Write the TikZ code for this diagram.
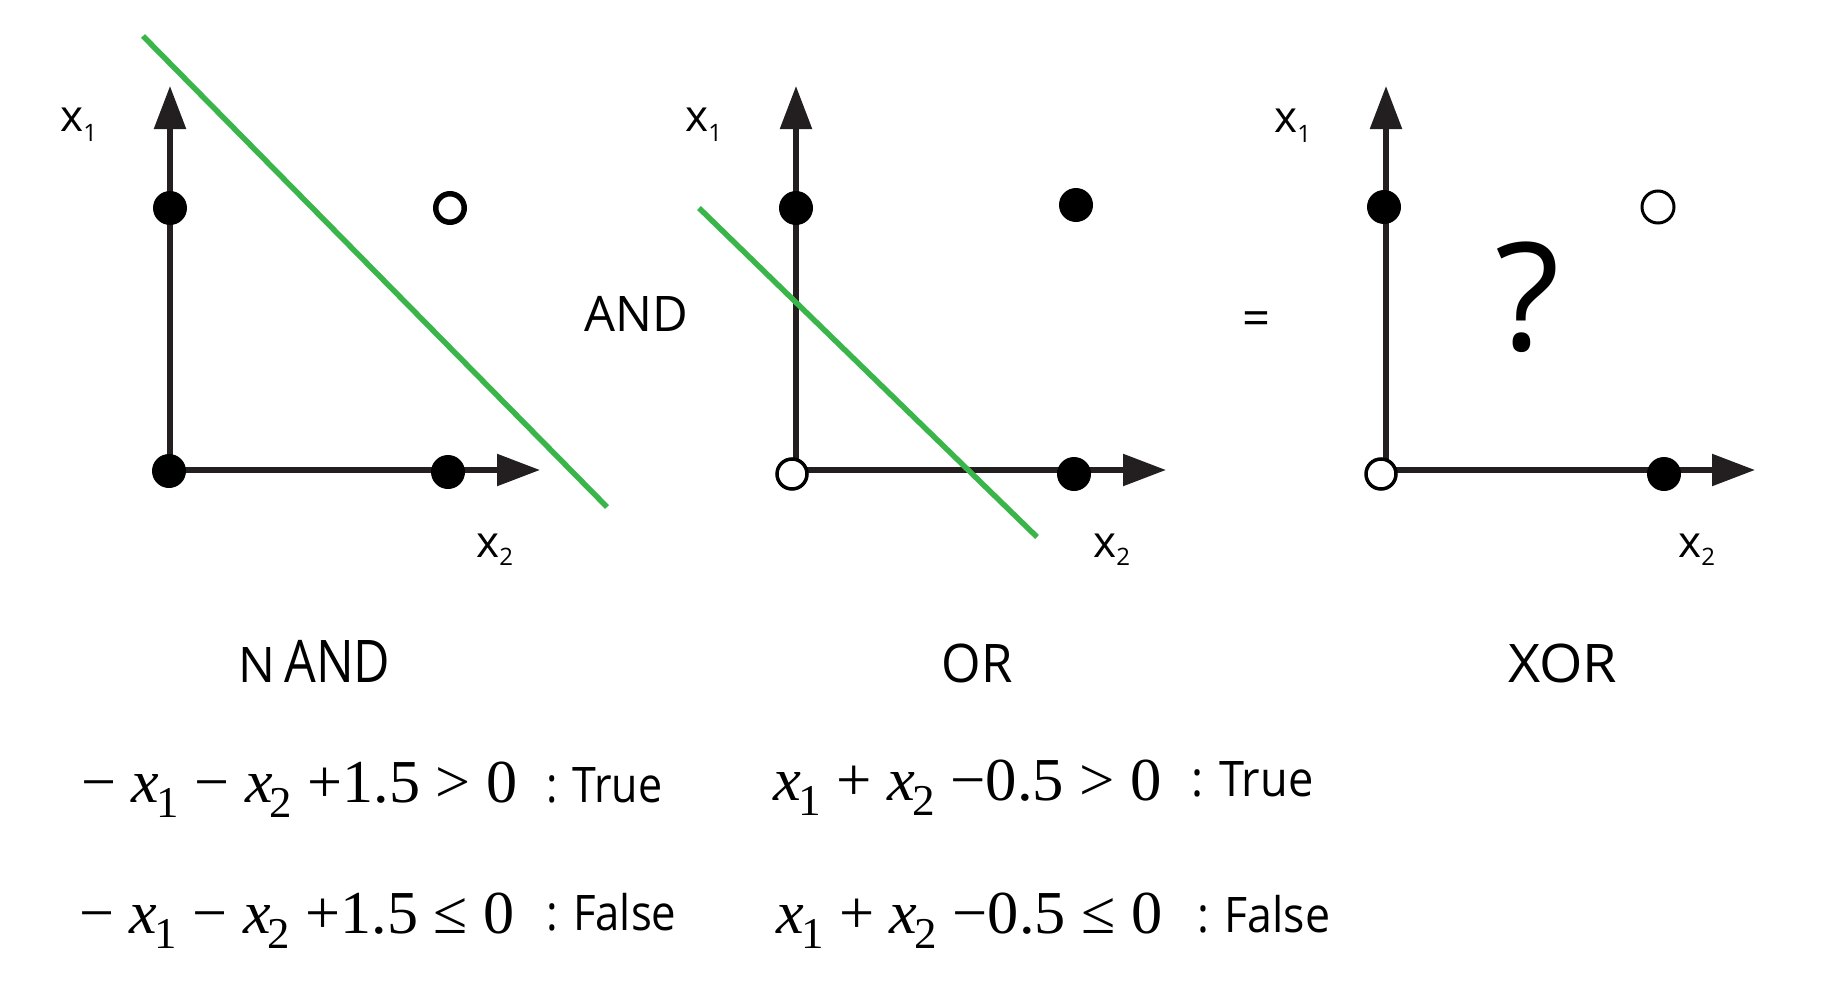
\documentclass[tikz,border=0pt]{standalone}
\usepackage{fontspec}
\usepackage{graphicx}
\setmainfont{Liberation Serif}
\newfontfamily\labfont{Open Sans}
\newfontfamily\eqfont{Liberation Serif}
\usetikzlibrary{arrows.meta}
\definecolor{sepgreen}{RGB}{58,181,74}
\definecolor{axisblack}{RGB}{35,31,32}
\newcommand\xsub[1]{\kern-1.5pt\raisebox{-7.5pt}{\fontsize{22pt}{22pt}\selectfont #1}}
\newcommand\ivar{\textit{x}}
\newcommand\fitw[2]{\resizebox{#1}{\height}{#2}}
\newcommand\axsub[2]{\raisebox{#1}{\fontsize{12pt}{12pt}\selectfont #2}}
\begin{document}
\begin{tikzpicture}[x=0.5pt,y=-0.5pt,
  axis/.style={line width=2.75pt,draw=axisblack,-{Triangle[length=21.5pt,width=15.5pt]}},
  sepline/.style={line width=2.75pt,draw=sepgreen},
  dot/.style={circle,fill=black,minimum size=17pt,inner sep=0pt},
  hollow/.style={circle,draw=black,fill=white,line width=1.75pt,minimum size=15pt,inner sep=0pt},
  ring/.style={circle,draw=black,line width=2.75pt,minimum size=14.25pt,inner sep=0pt},
  thinring/.style={circle,draw=black,fill=white,line width=1.5pt,minimum size=16pt,inner sep=0pt},
  axlab/.style={inner sep=0pt,anchor=base west,font=\labfont\fontsize{22pt}{22pt}\selectfont},
  eq/.style={inner sep=0pt,anchor=base west,font=\eqfont\fontsize{30.5pt}{30.5pt}\selectfont},
  tf/.style={inner sep=0pt,anchor=base west,font=\labfont\fontsize{24.5pt}{24.5pt}\selectfont},
  captxt/.style={inner sep=0pt,anchor=base west,font=\labfont\fontsize{26.6pt}{26.6pt}\selectfont},
  optxt/.style={inner sep=0pt,anchor=base,font=\labfont\fontsize{24.5pt}{24.5pt}\selectfont}
]
\useasboundingbox[fill=white] (0,0) rectangle (1822,985);

% ---------- panel 1 : NAND ----------
\coordinate (o1) at (170,470);
\coordinate (t1y) at (170,86);
\coordinate (t1x) at (540,470);
\draw[axis] (o1) -- (t1y);
\draw[axis] (o1) -- (t1x);
\coordinate (g1a) at (143,36);
\coordinate (g1b) at (607,507);
\draw[sepline] (g1a) -- (g1b);
\node[dot] (p1a) at (170,208) {};
\node[dot] (p1o) at (169,471) {};
\node[dot] (p1b) at (448,472) {};
\node[ring] (p1c) at (450,208) {};
\node[axlab] (l1y) at (60,131) {x\axsub{-5.5pt}{1}};
\node[axlab] (l1x) at (476,557) {x\axsub{-4pt}{2}};

% ---------- AND ----------
\node[optxt] (andop) at (636,331) {AND};

% ---------- panel 2 : OR ----------
\coordinate (o2) at (796,470);
\coordinate (t2y) at (796,86);
\coordinate (t2x) at (1166,470);
\draw[axis] (o2) -- (t2y);
\draw[axis] (o2) -- (t2x);
\coordinate (g2a) at (699,208);
\coordinate (g2b) at (1037,537);
\draw[sepline] (g2a) -- (g2b);
\node[dot] (p2a) at (796,208) {};
\node[dot] (p2c) at (1076,205) {};
\node[dot] (p2b) at (1074,474) {};
\node[hollow] (p2o) at (792,474) {};
\node[axlab] (l2y) at (685,131) {x\axsub{-5.5pt}{1}};
\node[axlab] (l2x) at (1093,557) {x\axsub{-4pt}{2}};

% ---------- = ----------
\node[optxt] (eqop) at (1256,335) {=};

% ---------- panel 3 : XOR ----------
\coordinate (o3) at (1386,470);
\coordinate (t3y) at (1386,86);
\coordinate (t3x) at (1755,470);
\draw[axis] (o3) -- (t3y);
\draw[axis] (o3) -- (t3x);
\node[dot] (p3a) at (1384,207) {};
\node[dot] (p3b) at (1664,474) {};
\node[hollow] (p3o) at (1381,474) {};
\node[thinring] (p3c) at (1658,207) {};
\node[inner sep=0pt,anchor=base,font=\labfont\fontsize{75pt}{75pt}\selectfont] (qm) at (1528,350) {?};
\node[axlab] (l3y) at (1274,132) {x\axsub{-5.5pt}{1}};
\node[axlab] (l3x) at (1678,557) {x\axsub{-4pt}{2}};

% ---------- captions ----------
\node[tf] (capN) at (238,682) {N};
\node[inner sep=0pt,anchor=base west,font=\labfont\fontsize{29.4pt}{29.4pt}\selectfont] (capAND) at (284,682) {\fitw{53pt}{AND}};
\node[captxt] (capOR) at (941,682) {\fitw{35.5pt}{OR}};
\node[captxt] (capXOR) at (1508,682) {\fitw{54.5pt}{XOR}};

% ---------- inequalities ----------
\node[eq] (e1) at (81,802) {\fitw{218pt}{− \ivar\xsub{1} − \ivar\xsub{2} +1.5 > 0}};
\node[tf] (e1t) at (546,802) {\fitw{58pt}{: True}};
\node[eq] (e2) at (79,933) {\fitw{217.5pt}{− \ivar\xsub{1} − \ivar\xsub{2} +1.5 ≤ 0}};
\node[tf] (e2t) at (546,930) {\fitw{65pt}{: False}};
\node[eq] (e3) at (773,800) {\fitw{194.5pt}{\ivar\xsub{1} + \ivar\xsub{2} −0.5 > 0}};
\node[tf] (e3t) at (1191,796) {\fitw{61pt}{: True}};
\node[eq] (e4) at (776,933) {\fitw{193pt}{\ivar\xsub{1} + \ivar\xsub{2} −0.5 ≤ 0}};
\node[tf] (e4t) at (1197,932) {\fitw{66.5pt}{: False}};
\end{tikzpicture}
\end{document}
